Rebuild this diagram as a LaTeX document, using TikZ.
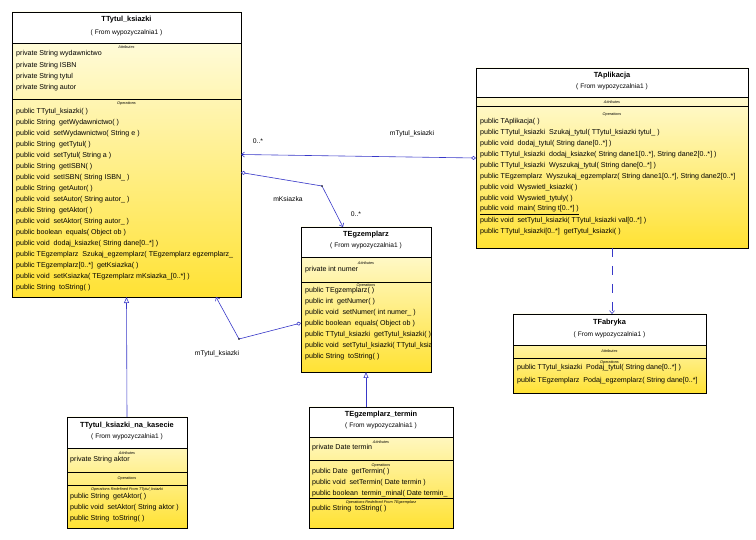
\documentclass[tikz,border=0pt]{standalone}
\usepackage{fontspec}
\setmainfont{Liberation Sans}
\usetikzlibrary{arrows.meta}
\definecolor{umlyellow}{RGB}{255,226,52}
\definecolor{umlcream}{RGB}{255,254,236}
\definecolor{umlblue}{RGB}{56,56,200}

\begin{document}
\begin{tikzpicture}[x=1pt,y=-1pt,
  classbox/.style={draw,line width=0.7pt,top color=umlcream,bottom color=umlyellow,inner sep=0pt,outer sep=0pt,anchor=north west},
  header/.style={draw,line width=0.7pt,fill=white},
  sep/.style={line width=0.7pt},
  title/.style={font=\fontsize{7.4}{8}\selectfont\bfseries,inner sep=0pt},
  from/.style={font=\fontsize{6.6}{8}\selectfont,inner sep=0pt},
  compart/.style={font=\fontsize{3.8}{4}\selectfont\itshape,inner sep=0pt},
  member/.style={font=\fontsize{7.1}{8}\selectfont,inner sep=0pt,anchor=west},
  link/.style={umlblue,line width=0.6pt},
  role/.style={font=\fontsize{6.8}{8}\selectfont,inner sep=0pt},
  nav/.style={-{Straight Barb[length=3pt,width=5pt]}},
  agg/.style={{Diamond[fill=white,length=5pt,width=4pt]}-{Straight Barb[length=3pt,width=5pt]}},
  gen/.style={-{Triangle[fill=white,length=6pt,width=5pt]}}]

\useasboundingbox (0,0) rectangle (756,540);

% TTytul_ksiazki
\node[classbox,minimum width=229pt,minimum height=285pt] (tytul) at (12,12) {};
\draw[header] (12,12) rectangle (241,43);
\draw[sep] (12,99) -- (241,99);
\node[title] (tytulname) at (126.5,20) {TTytul\_ksiazki};
\node[from] (tytulfrom) at (126.5,33) {( From wypozyczalnia1 )};
\node[compart] (tytulattr) at (126.5,47.5) {Attributes};
\foreach \t [count=\i] in {private String wydawnictwo, private String ISBN, private String tytul, private String autor}
  \node[member] (tytula\i) at (16,{54+11.3*(\i-1)}) {\t};
\node[compart] (tytulops) at (126.5,104) {Operations};
\foreach \t [count=\i] in {public TTytul\_ksiazki( ), public String\ \ getWydawnictwo( ), public void\ \ setWydawnictwo( String e ),
  public String\ \ getTytul( ), public void\ \ setTytul( String a ), public String\ \ getISBN( ), public void\ \ setISBN( String ISBN\_ ),
  public String\ \ getAutor( ), public void\ \ setAutor( String autor\_ ), public String\ \ getAktor( ), public void\ \ setAktor( String autor\_ ),
  public boolean\ \ equals( Object ob ), {public void\ \ dodaj\_ksiazke( String dane[0..*] )},
  public TEgzemplarz\ \ Szukaj\_egzemplarz( TEgzemplarz egzemplarz\_, {public TEgzemplarz[0..*]\ \ getKsiazka( )},
  {public void\ \ setKsiazka( TEgzemplarz mKsiazka\_[0..*] )}, public String\ \ toString( )}
  \node[member] (tytulo\i) at (16,{112+11*(\i-1)}) {\t};

% TAplikacja
\node[classbox,minimum width=272pt,minimum height=180pt] (aplikacja) at (476,68) {};
\draw[header] (476,68) rectangle (748,97);
\draw[sep] (476,106) -- (748,106);
\node[title] (aplikacjaname) at (612,76) {TAplikacja};
\node[from] (aplikacjafrom) at (612,87) {( From wypozyczalnia1 )};
\node[compart] (aplikacjaattr) at (612,102) {Attributes};
\node[compart] (aplikacjaops) at (612,115) {Operations};
\foreach \t [count=\i] in {public TAplikacja( ), public TTytul\_ksiazki\ \ Szukaj\_tytul( TTytul\_ksiazki tytul\_ ),
  {public void\ \ dodaj\_tytul( String dane[0..*] )},
  {public TTytul\_ksiazki\ \ dodaj\_ksiazke( String dane1[0..*], String dane2[0..*] )},
  {public TTytul\_ksiazki\ \ Wyszukaj\_tytul( String dane[0..*] )},
  {public TEgzemplarz\ \ Wyszukaj\_egzemplarz( String dane1[0..*], String dane2[0..*]},
  public void\ \ Wyswietl\_ksiazki( ), public void\ \ Wyswietl\_tytuly( ),
  {\underline{public void\ \ main( String t[0..*] )}},
  {public void\ \ setTytul\_ksiazki( TTytul\_ksiazki val[0..*] )},
  {public TTytul\_ksiazki[0..*]\ \ getTytul\_ksiazki( )}}
  \node[member] (aplikacjao\i) at (480,{122+11*(\i-1)}) {\t};

% TEgzemplarz
\node[classbox,minimum width=130pt,minimum height=145pt] (egzemplarz) at (301,227) {};
\draw[header] (301,227) rectangle (431,257);
\draw[sep] (301,282) -- (431,282);
\node[title] (egzemplarzname) at (366,235) {TEgzemplarz};
\node[from] (egzemplarzfrom) at (366,246) {( From wypozyczalnia1 )};
\node[compart] (egzemplarzattr) at (366,263) {Attributes};
\node[member] (egzemplarza1) at (305,270) {private int numer};
\node[compart] (egzemplarzops) at (366,286) {Operations};
\begin{scope}
\clip (301,282) rectangle (430.5,372);
\foreach \t [count=\i] in {public TEgzemplarz( ), public int\ \ getNumer( ), public void\ \ setNumer( int numer\_ ),
  public boolean\ \ equals( Object ob ), public TTytul\_ksiazki\ \ getTytul\_ksiazki( ),
  public void\ \ setTytul\_ksiazki( TTytul\_ksiazki va, public String\ \ toString( )}
  \node[member] (egzemplarzo\i) at (305,{291+11*(\i-1)}) {\t};
\end{scope}

% TEgzemplarz_termin
\node[classbox,minimum width=144pt,minimum height=121pt] (termin) at (309,407) {};
\draw[header] (309,407) rectangle (453,437);
\draw[sep] (309,460) -- (453,460);
\draw[sep] (309,498) -- (453,498);
\node[title] (terminname) at (381,415) {TEgzemplarz\_termin};
\node[from] (terminfrom) at (381,426) {( From wypozyczalnia1 )};
\node[compart] (terminattr) at (381,442) {Attributes};
\node[member] (termina1) at (312,448) {private Date termin};
\node[compart] (terminops) at (381,466) {Operations};
\foreach \t [count=\i] in {public Date\ \ getTermin( ), public void\ \ setTermin( Date termin ), public boolean\ \ termin\_minal( Date termin\_}
  \node[member] (termino\i) at (312,{472+11*(\i-1)}) {\t};
\node[compart] (terminred) at (381,503) {Operations Redefined From TEgzemplarz};
\node[member] (terminr1) at (312,509) {public String\ \ toString( )};

% TTytul_ksiazki_na_kasecie
\node[classbox,minimum width=120pt,minimum height=111pt] (kasecie) at (67,417) {};
\draw[header] (67,417) rectangle (187,448);
\draw[sep] (67,472) -- (187,472);
\draw[sep] (67,485) -- (187,485);
\node[title] (kasecieame) at (127,426) {TTytul\_ksiazki\_na\_kasecie};
\node[from] (kaseciefrom) at (127,437) {( From wypozyczalnia1 )};
\node[compart] (kasecieattr) at (127,453) {Attributes};
\node[member] (kasiecia1) at (70,460) {private String aktor};
\node[compart] (kasecieops) at (127,478.5) {Operations};
\node[compart] (kasecieed) at (127,490) {Operations Redefined From TTytul\_ksiazki};
\foreach \t [count=\i] in {public String\ \ getAktor( ), public void\ \ setAktor( String aktor ), public String\ \ toString( )}
  \node[member] (kasecier\i) at (70,{497+11*(\i-1)}) {\t};

% TFabryka
\node[classbox,minimum width=193pt,minimum height=79pt] (fabryka) at (513,314) {};
\draw[header] (513,314) rectangle (706,345);
\draw[sep] (513,358) -- (706,358);
\node[title] (fabrykaname) at (609.5,323) {TFabryka};
\node[from] (fabrykafrom) at (609.5,335) {( From wypozyczalnia1 )};
\node[compart] (fabrykaattr) at (609.5,351) {Attributes};
\node[compart] (fabrykaops) at (609.5,362.5) {Operations};
\node[member] (fabrykao1) at (517,368) {public TTytul\_ksiazki\ \ Podaj\_tytul( String dane[0..*] )};
\node[member] (fabrykao2) at (517,381) {public TEgzemplarz\ \ Podaj\_egzemplarz( String dane[0..*]};

% associations
\coordinate (kbend) at (322,186);
\coordinate (tbend) at (239,339);
\draw[link,agg] (aplikacja.west) -- (tytul.east);
\draw[link,agg] ([yshift=-18pt]tytul.east) -- (kbend) -- ([xshift=-23pt]egzemplarz.north);
\draw[link,agg] ([yshift=-23.5pt]egzemplarz.west) -- (tbend) -- ([xshift=89.5pt]tytul.south);
\fill (kbend) circle (0.8pt);
\fill (tbend) circle (0.8pt);
\node[role] (roletytul) at (412,134) {mTytul\_ksiazki};
\node[role] (multtytul) at (258,141) {0..*};
\node[role] (roleksiazka) at (288,199) {mKsiazka};
\node[role] (multksiazka) at (356,214) {0..*};
\node[role] (roleegz) at (217,354) {mTytul\_ksiazki};

% generalizations and dependency
\draw[link,gen] (kasecie.north) -- (tytul.south);
\draw[link,gen] (termin.north -| egzemplarz.south) -- (egzemplarz.south);
\draw[link,nav,dash pattern=on 9pt off 9pt] (aplikacja.south) -- (aplikacja.south |- fabryka.north);

\end{tikzpicture}
\end{document}
